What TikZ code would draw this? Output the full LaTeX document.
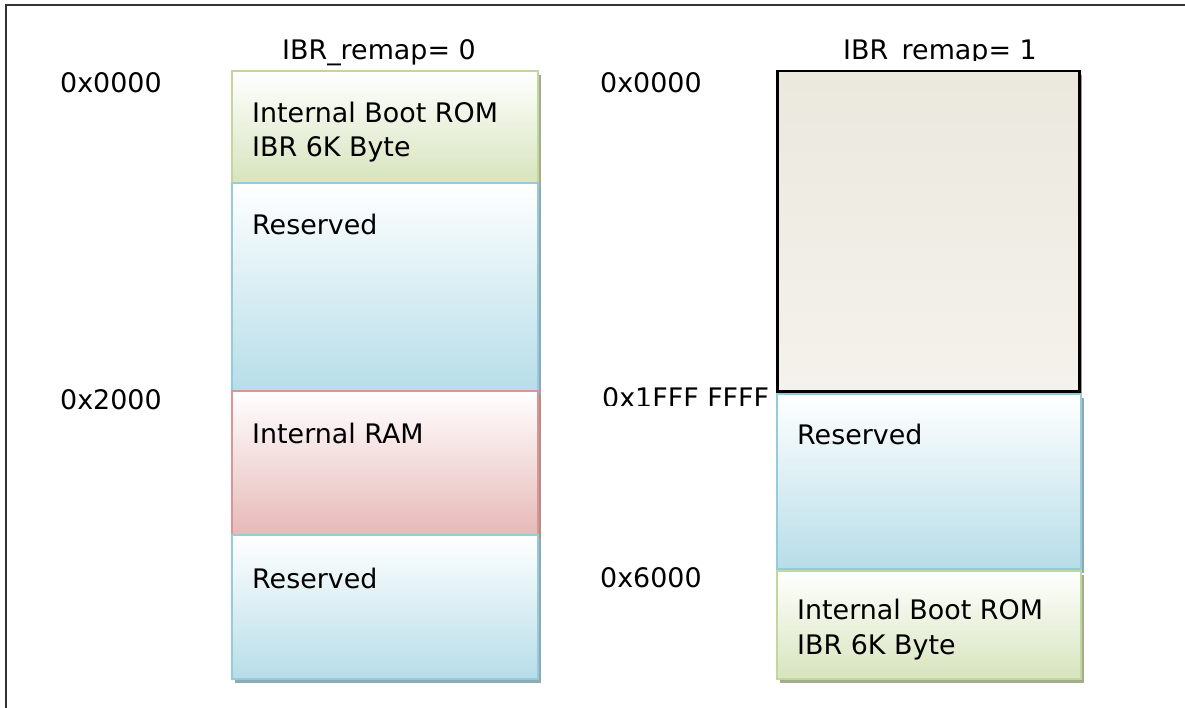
\documentclass[tikz,border=0pt]{standalone}
\usepackage{fontspec}
\setmainfont{DejaVu Sans}
\usetikzlibrary{shadows}

\definecolor{romline}{HTML}{C3D69B}
\definecolor{romfill}{HTML}{D7E4BD}
\definecolor{romshade}{HTML}{A3AB91}
\definecolor{resline}{HTML}{93CDDD}
\definecolor{resfill}{HTML}{B7DDE8}
\definecolor{resshade}{HTML}{8FA9B2}
\definecolor{ramline}{HTML}{D99694}
\definecolor{ramfill}{HTML}{E6B9B8}
\definecolor{ramshade}{HTML}{B98C8C}
\definecolor{dramtop}{HTML}{EBE8DE}
\definecolor{dramfill}{HTML}{F4F2EC}
\definecolor{dramshade}{HTML}{B08C8C}
\definecolor{frameline}{HTML}{333333}

\begin{document}
\begin{tikzpicture}[x=1bp,y=-1bp]
\tikzset{
  lbl/.style={font=\fontsize{27}{34.5}\selectfont, inner sep=0pt, anchor=base west, align=left},
  membox/.style={rectangle, inner sep=0pt, line width=2.2bp, anchor=north west},
  rombox/.style={membox, draw=romline, top color=white, bottom color=romfill,
    general shadow={fill=romshade, shadow xshift=3bp, shadow yshift=-4bp}},
  resbox/.style={membox, draw=resline, top color=white, bottom color=resfill,
    general shadow={fill=resshade, shadow xshift=3bp, shadow yshift=-4bp}},
  rambox/.style={membox, draw=ramline, top color=white, bottom color=ramfill,
    general shadow={fill=ramshade, shadow xshift=3bp, shadow yshift=-4bp}},
  drambox/.style={membox, draw=black, line width=2.5bp, top color=dramtop, bottom color=dramfill,
    general shadow={fill=dramshade, shadow xshift=3bp, shadow yshift=-4bp}},
}
\useasboundingbox (0,0) rectangle (1185,708);

% page frame
\draw[line width=2bp, frameline] (6,708) -- (6,5) -- (1185,5);

% ---- map with IBR_remap = 0 ----
\node[rombox, minimum width=306bp, minimum height=112bp] (l1) at (231,70) {};
\node[resbox, minimum width=306bp, minimum height=208bp] (l2) at (231,182) {};
\node[rambox, minimum width=306bp, minimum height=144bp] (l3) at (231,390) {};
\node[resbox, minimum width=306bp, minimum height=144bp] (l4) at (231,534) {};

% multi-line labels sit on the baseline of their last line
\node[lbl] (l1t) at (252,157) {Internal Boot ROM\\IBR 6K Byte};
\node[lbl] (l2t) at (252,235) {Reserved};
\node[lbl] (l3t) at (252,443) {Internal RAM};
\node[lbl] (l4t) at (252,588) {Reserved};

\node[lbl] (t0) at (282,60) {IBR\_remap= 0};
\node[lbl] (a0) at (60,93) {0x0000};
\node[lbl] (a1) at (60,409) {0x2000};

% ---- map with IBR_remap = 1 ----
\node[drambox, minimum width=302bp, minimum height=320bp] (r1) at (776,70) {};
\node[resbox, minimum width=304bp, minimum height=175bp] (r2) at (776,393) {};
\node[rombox, minimum width=304bp, minimum height=108bp] (r3) at (776,570) {};

\node[lbl] (r2t) at (797,444) {Reserved};
\node[lbl] (r3t) at (797,654) {Internal Boot ROM\\IBR 6K Byte};

\begin{scope}
  \clip (830,20) rectangle (1060,60.5);
  \node[lbl] (t1) at (843,60) {IBR\_remap= 1};
\end{scope}
\node[lbl] (b0) at (600,93) {0x0000};
\begin{scope}
  \clip (590,370) rectangle (772,405);
  \node[lbl] (b1) at (602,407) {0x1FFF FFFF};
\end{scope}
\node[lbl] (b2) at (600,587) {0x6000};
\end{tikzpicture}
\end{document}
